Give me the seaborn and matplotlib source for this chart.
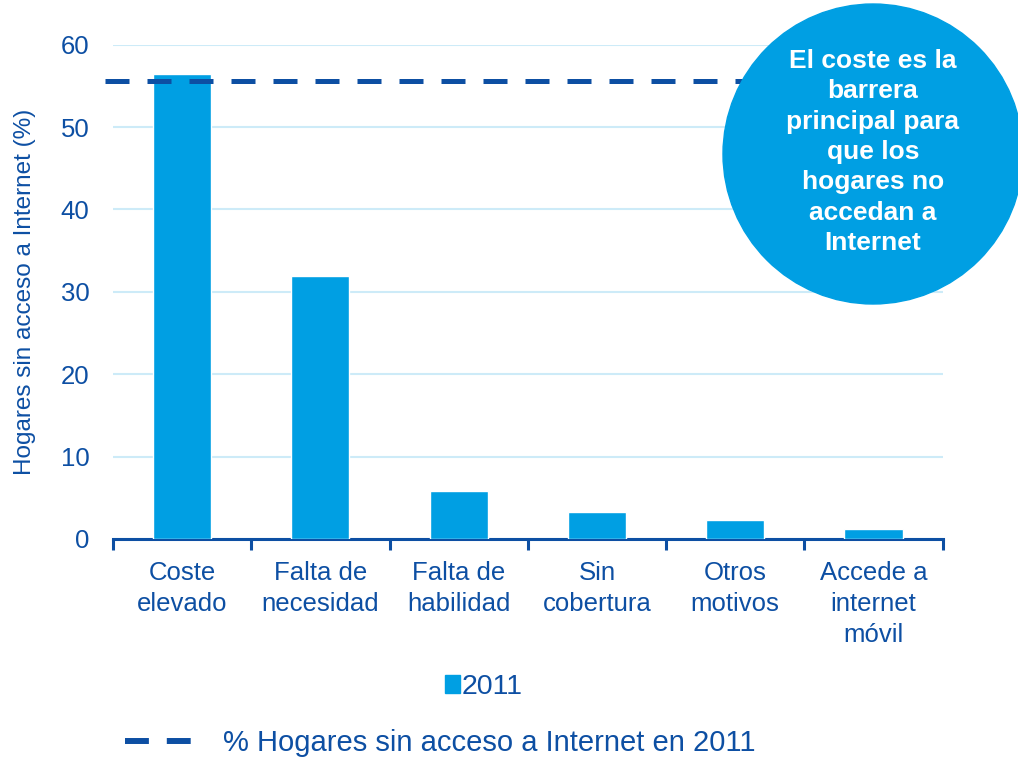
import matplotlib.pyplot as plt
import pandas as pd
import seaborn as sns
from matplotlib.lines import Line2D
from matplotlib.patches import Ellipse, Patch

# data
categorias = [
    "Coste\nelevado",
    "Falta de\nnecesidad",
    "Falta de\nhabilidad",
    "Sin\ncobertura",
    "Otros\nmotivos",
    "Accede a\ninternet\nmóvil",
]
valores_2011 = [56.4, 31.9, 5.8, 3.3, 2.3, 1.2]
total_sin_acceso = 55.6
yticks = [0, 10, 20, 30, 40, 50, 60]

BAR = "#009FE3"
DARK = "#0D4FA3"
GRID = "#CDEBF8"

sns.set_theme(style="white")
plt.rcParams["font.family"] = ["Liberation Sans", "DejaVu Sans"]

df = pd.DataFrame({"categoria": categorias, "valor": valores_2011})

fig = plt.figure(figsize=(10.18, 7.57), dpi=100)
ax = fig.add_axes([0.111, 0.288, 0.815, 0.653])

sns.barplot(data=df, x="categoria", y="valor", color=BAR, width=0.42,
            saturation=1, ax=ax, zorder=3)

ax.set_ylim(0, 60)
ax.set_xlim(-0.5, len(categorias) - 0.5)
ax.set_yticks(yticks)
ax.grid(axis="y", color=GRID, linewidth=1.5, zorder=0)
ax.set_axisbelow(True)

for s in ["top", "right", "left"]:
    ax.spines[s].set_visible(False)
ax.spines["bottom"].set_color(DARK)
ax.spines["bottom"].set_linewidth(2.2)

# ticks at category boundaries
ax.set_xticks([i - 0.5 for i in range(len(categorias) + 1)], minor=True)
ax.tick_params(axis="x", which="minor", length=8, width=2.2, color=DARK,
               direction="out", bottom=True)
ax.tick_params(axis="x", which="major", length=0, pad=16, labelsize=18.5,
               labelcolor=DARK)
ax.tick_params(axis="y", length=0, pad=17, labelsize=18.5, labelcolor=DARK)
for lbl in ax.get_xticklabels():
    lbl.set_linespacing(1.35)

ax.set_xlabel("")
ax.set_ylabel("Hogares sin acceso a Internet (%)", fontsize=17.5,
              color=DARK, labelpad=18)

# dashed reference line (% households without internet)
ax.plot([-0.56, 5.5], [total_sin_acceso, total_sin_acceso], color=DARK,
        linewidth=3.6, dashes=(4.8, 3.6), clip_on=False, zorder=4)

# callout bubble
r = 150
bubble = Ellipse((873 / 1018, 1 - 154 / 757), 2 * r / 1018, 2 * r / 757,
                 transform=fig.transFigure, color=BAR, zorder=5)
fig.add_artist(bubble)
fig.text(873 / 1018, 1 - 152 / 757,
         "El coste es la\nbarrera\nprincipal para\nque los\nhogares no\naccedan a\nInternet",
         ha="center", va="center", color="white", fontsize=19,
         fontweight="bold", linespacing=1.34, zorder=6)

# legends
fig.legend(handles=[Patch(color=BAR)], labels=["2011"],
           loc="center", bbox_to_anchor=(484 / 1018, 1 - 687 / 757),
           frameon=False, fontsize=20.5, handlelength=0.53, handleheight=0.56,
           handletextpad=0.05, labelcolor=DARK)
fig.legend(handles=[Line2D([0], [0], color=DARK, linewidth=4.3,
                           dashes=(4.0, 3.0))],
           labels=["% Hogares sin acceso a Internet en 2011"],
           loc="center", bbox_to_anchor=(440 / 1018, 1 - 743 / 757),
           frameon=False, fontsize=21, handlelength=2.25,
           handletextpad=1.1, labelcolor=DARK)

fig.savefig("out.png", dpi=100)
